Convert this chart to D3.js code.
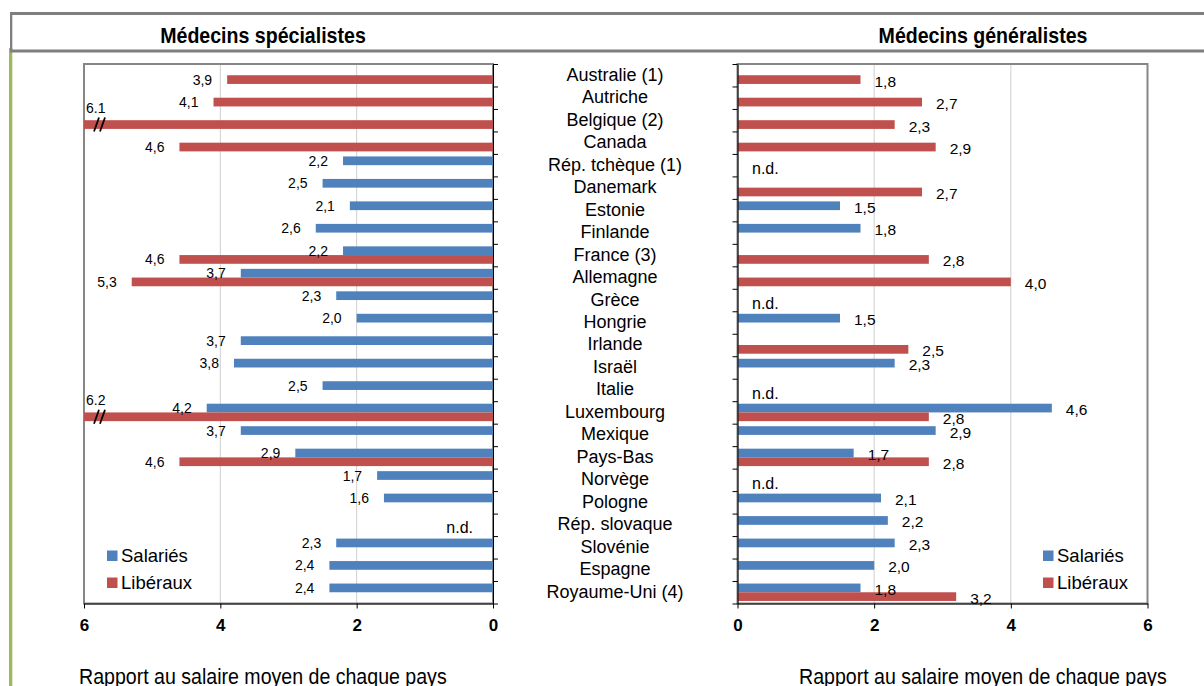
<!DOCTYPE html>
<html><head><meta charset="utf-8">
<script src="https://cdn.jsdelivr.net/npm/d3@7"></script>
<style>
body{margin:0;background:#fff}
svg{display:block}
text{font-family:"Liberation Sans",Arial,Helvetica,sans-serif;fill:#000}
</style>
</head><body>
<svg id="c" width="1204" height="686"></svg>
<script>
// ---------- DATA ----------
const countries = ["Australie (1)","Autriche","Belgique (2)","Canada","Rép. tchèque (1)","Danemark","Estonie","Finlande","France (3)","Allemagne","Grèce","Hongrie","Irlande","Israël","Italie","Luxembourg","Mexique","Pays-Bas","Norvège","Pologne","Rép. slovaque","Slovénie","Espagne","Royaume-Uni (4)"];
const seriesNames = ["Salariés","Libéraux"];
const specSalaries = [null,null,null,null,2.2,2.5,2.1,2.6,2.2,3.7,2.3,2.0,3.7,3.8,2.5,4.2,3.7,2.9,1.7,1.6,null,2.3,2.4,2.4];
const specLiberaux = [3.9,4.1,6.1,4.6,null,null,null,null,4.6,5.3,null,null,null,null,null,6.2,null,4.6,null,null,null,null,null,null];
const genSalaries  = [null,null,null,null,null,null,1.5,1.8,null,null,null,1.5,null,2.3,null,4.6,2.9,1.7,null,2.1,2.2,2.3,2.0,1.8];
const genLiberaux  = [1.8,2.7,2.3,2.9,null,2.7,null,null,2.8,4.0,null,null,2.5,null,null,2.8,null,2.8,null,null,null,null,null,3.2];
const specNd = ["Rép. slovaque"];
const genNd = ["Rép. tchèque (1)","Grèce","Italie","Norvège"];
const xTicks = [0,2,4,6];
const axisMax = 6;
const titles = ["Médecins spécialistes","Médecins généralistes"];
const axisTitle = "Rapport au salaire moyen de chaque pays";
const colors = {"Salariés":"#4F81BD","Libéraux":"#C0504D"};

// ---------- LAYOUT ----------
const svg = d3.select("#c");
const plotTop = 64, plotBottom = 603.5;
const y = d3.scaleBand().domain(countries).range([plotTop,plotBottom]).padding(0);
const sub = d3.scaleBand().domain(seriesNames).range([0,y.bandwidth()]).paddingInner(0).paddingOuter(0.29);
const yTick = d3.scaleLinear().domain([0,countries.length]).range([plotTop,plotBottom]);
const xL = d3.scaleLinear().domain([0,axisMax]).range([493,84]).clamp(true);
const xR = d3.scaleLinear().domain([0,axisMax]).range([737.5,1147.5]).clamp(true);
const fmt = v => v > axisMax ? d3.format(".1f")(v) : d3.format(".1f")(v).replace(".", ",");

function txt(g, x, yy, s, o) {
  o = o || {};
  return g.append("text")
    .attr("transform", `translate(${x},${yy}) scale(${o.sx||1},1)`)
    .attr("text-anchor", o.anchor || "start")
    .attr("font-size", o.size || 14)
    .attr("font-weight", o.weight || "normal")
    .attr("fill", o.fill || "#000")
    .text(s);
}

// ---------- FRAME ----------
svg.append("rect").attr("x",9).attr("y",48).attr("width",3.3).attr("height",640).attr("fill","#9BBB59");
svg.append("rect").attr("x",10).attr("y",12).attr("width",1194).attr("height",3).attr("fill","#7F7F7F");
svg.append("rect").attr("x",10).attr("y",49.5).attr("width",1194).attr("height",3).attr("fill","#7F7F7F");
svg.append("rect").attr("x",10).attr("y",12).attr("width",2.3).attr("height",40).attr("fill","#7F7F7F");

txt(svg, 263, 42.5, titles[0], {size:22, weight:"bold", anchor:"middle", sx:0.89});
txt(svg, 983, 42.5, titles[1], {size:22, weight:"bold", anchor:"middle", sx:0.89});

// ---------- PANELS ----------
function panel(x, sal, lib, nd, side) {
  const g = svg.append("g");
  const x0 = x(0), x6 = x(axisMax);
  const left = Math.min(x0, x6), right = Math.max(x0, x6);
  g.selectAll(".grid").data(xTicks.filter(t => t > 0 && t < axisMax)).join("line")
    .attr("x1", d => x(d)).attr("x2", d => x(d)).attr("y1", plotTop).attr("y2", plotBottom)
    .attr("stroke", "#CFCFCF").attr("stroke-width", 1);
  g.append("rect").attr("x", left).attr("y", plotTop).attr("width", right-left).attr("height", plotBottom-plotTop)
    .attr("fill","none").attr("stroke","#868686").attr("stroke-width",2);

  const recs = [];
  countries.forEach((c,i) => {
    if (sal[i] != null) recs.push({c, s:"Salariés", v:sal[i]});
    if (lib[i] != null) recs.push({c, s:"Libéraux", v:lib[i]});
  });
  const by = d => y(d.c) + sub(d.s);
  const h = sub.bandwidth();
  g.selectAll(".bar").data(recs).join("rect")
    .attr("x", d => Math.min(x(0), x(d.v)))
    .attr("width", d => Math.abs(x(d.v) - x(0)))
    .attr("y", by).attr("height", h)
    .attr("fill", d => colors[d.s]);

  recs.forEach(d => {
    const cy = by(d) + h/2;
    if (d.v > axisMax) {
      txt(g, x6 + 2, y(d.c) + 4, fmt(d.v), {size:14});
      const bx = x6 + 16;
      g.append("path")
        .attr("d", `M${bx-6},${cy+7}L${bx-1},${cy-7}M${bx},${cy+7}L${bx+5},${cy-7}`)
        .attr("stroke","#000").attr("stroke-width",1.8).attr("fill","none");
    } else if (side === "left") {
      txt(g, x(d.v) - 15, cy + 5, fmt(d.v), {size:14, anchor:"end"});
    } else {
      txt(g, x(d.v) + 14, cy + 7, fmt(d.v), {size:15.5});
    }
  });
  nd.forEach(c => {
    const cy = y(c) + y.bandwidth()/2;
    if (side === "left") txt(g, x0 - 20, cy + 8, "n.d.", {size:16, anchor:"end"});
    else txt(g, x0 + 14.5, cy + 9, "n.d.", {size:16});
  });

  const ya = (side === "left" ? d3.axisRight(yTick) : d3.axisLeft(yTick))
    .tickValues(d3.range(countries.length + 1)).tickFormat("").tickSize(5).tickSizeOuter(0);
  g.append("g").attr("transform", `translate(${x0},0)`).call(ya)
    .call(a => a.selectAll("path,line").attr("stroke","#000"));

  const xa = d3.axisBottom(x).tickValues(xTicks).tickSize(5).tickSizeOuter(0).tickPadding(10).tickFormat(d3.format("d"));
  const ax = g.append("g").attr("transform", `translate(0,${plotBottom})`).call(xa);
  ax.selectAll("path,line").attr("stroke","#000");
  ax.selectAll("text").attr("font-size",17).attr("font-weight","bold")
    .attr("font-family",'"Liberation Sans",Arial,sans-serif').attr("fill","#000");

  const lx = side === "left" ? 107 : 1043;
  seriesNames.forEach((s,k) => {
    const ly = 550.5 + k*27;
    g.append("rect").attr("x", lx).attr("y", ly).attr("width", 10.5).attr("height", 10.5).attr("fill", colors[s]);
    txt(g, lx + 14, ly + 11.5, s, {size:18.5});
  });

  txt(g, side === "left" ? 79 : 799, 683.5, axisTitle, {size:22, sx:0.89});
}

panel(xL, specSalaries, specLiberaux, specNd, "left");
panel(xR, genSalaries, genLiberaux, genNd, "right");

svg.append("g").selectAll("text").data(countries).join("text")
  .attr("x", 615).attr("y", d => y(d) + y.bandwidth()/2 + 5.5)
  .attr("text-anchor","middle").attr("font-size",18).text(d => d);
</script>
</body></html>
